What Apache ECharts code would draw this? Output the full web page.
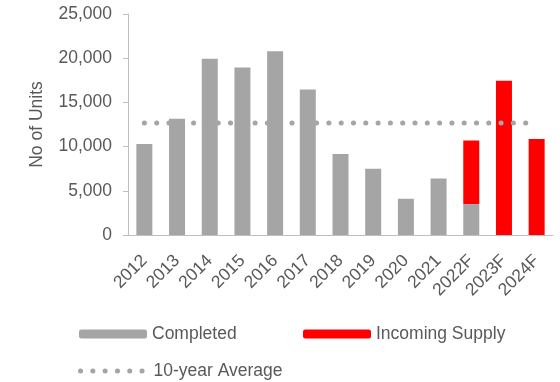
<!DOCTYPE html>
<html>
<head>
<meta charset="utf-8">
<style>
  html, body { margin: 0; padding: 0; background: #fff; }
  #chart { width: 560px; height: 382px; }
</style>
<script src="https://cdn.jsdelivr.net/npm/echarts@6/dist/echarts.min.js"></script>
</head>
<body>
<div id="chart"></div>
<script>
// Residential supply by year (units)
const years = ['2012', '2013', '2014', '2015', '2016', '2017', '2018', '2019', '2020', '2021', '2022F', '2023F', '2024F'];
const completed = [10300, 13150, 19950, 18950, 20800, 16450, 9150, 7500, 4100, 6400, 3500, null, null];
const incomingSupply = [null, null, null, null, null, null, null, null, null, null, 7200, 17450, 10850];
const tenYearAverage = 12675;
const averageLine = years.map(() => tenYearAverage);

const TEXT = '#595959';
const GREY = '#a5a5a5';
const RED = '#ff0000';
const FONT = 'Liberation Sans, Arial, sans-serif';
const FS = 17.5;
const DOTS = { color: GREY, width: 5, type: [0.1, 12.2], cap: 'round' };

const chart = echarts.init(document.getElementById('chart'));

const legendBase = {
  orient: 'horizontal',
  itemWidth: 68,
  itemHeight: 9,
  selectedMode: false,
  textStyle: { color: TEXT, fontSize: FS, fontFamily: FONT, padding: [0, 0, 0, 0] }
};

chart.setOption({
  animation: false,
  textStyle: { fontFamily: FONT },
  grid: { left: 128, right: 7, top: 14, bottom: 147, containLabel: false },
  legend: [
    Object.assign({}, legendBase, { left: 74, top: 320, data: ['Completed'] }),
    Object.assign({}, legendBase, { left: 298, top: 320, data: ['Incoming Supply'] }),
    Object.assign({}, legendBase, {
      left: 73, top: 357,
      itemStyle: { opacity: 0 },
      lineStyle: DOTS,
      data: ['10-year Average']
    })
  ],
  xAxis: {
    type: 'category',
    data: years,
    axisLine: { lineStyle: { color: '#bfbfbf', width: 1 } },
    axisTick: { alignWithLabel: true, length: 5, lineStyle: { color: '#bfbfbf' } },
    axisLabel: { rotate: 45, color: TEXT, fontSize: FS, fontFamily: FONT, margin: 23, interval: 0 }
  },
  yAxis: {
    type: 'value',
    min: 0,
    max: 25000,
    interval: 5000,
    name: 'No of Units',
    nameLocation: 'middle',
    nameGap: 82,
    nameTextStyle: { color: TEXT, fontSize: FS, fontFamily: FONT },
    axisLine: { show: true, lineStyle: { color: '#bfbfbf', width: 1 } },
    axisTick: { show: true, length: 5, lineStyle: { color: '#bfbfbf' } },
    splitLine: { show: false },
    axisLabel: {
      color: TEXT, fontSize: FS, fontFamily: FONT, margin: 16,
      formatter: v => v.toLocaleString('en-US')
    }
  },
  series: [
    {
      name: 'Completed',
      type: 'bar',
      stack: 'supply',
      barWidth: 16,
      itemStyle: { color: GREY },
      data: completed
    },
    {
      name: 'Incoming Supply',
      type: 'bar',
      stack: 'supply',
      barWidth: 16,
      itemStyle: { color: RED },
      data: incomingSupply
    },
    {
      name: '10-year Average',
      type: 'line',
      symbol: 'none',
      z: 5,
      itemStyle: { color: GREY },
      lineStyle: DOTS,
      data: averageLine
    }
  ]
});
</script>
</body>
</html>
